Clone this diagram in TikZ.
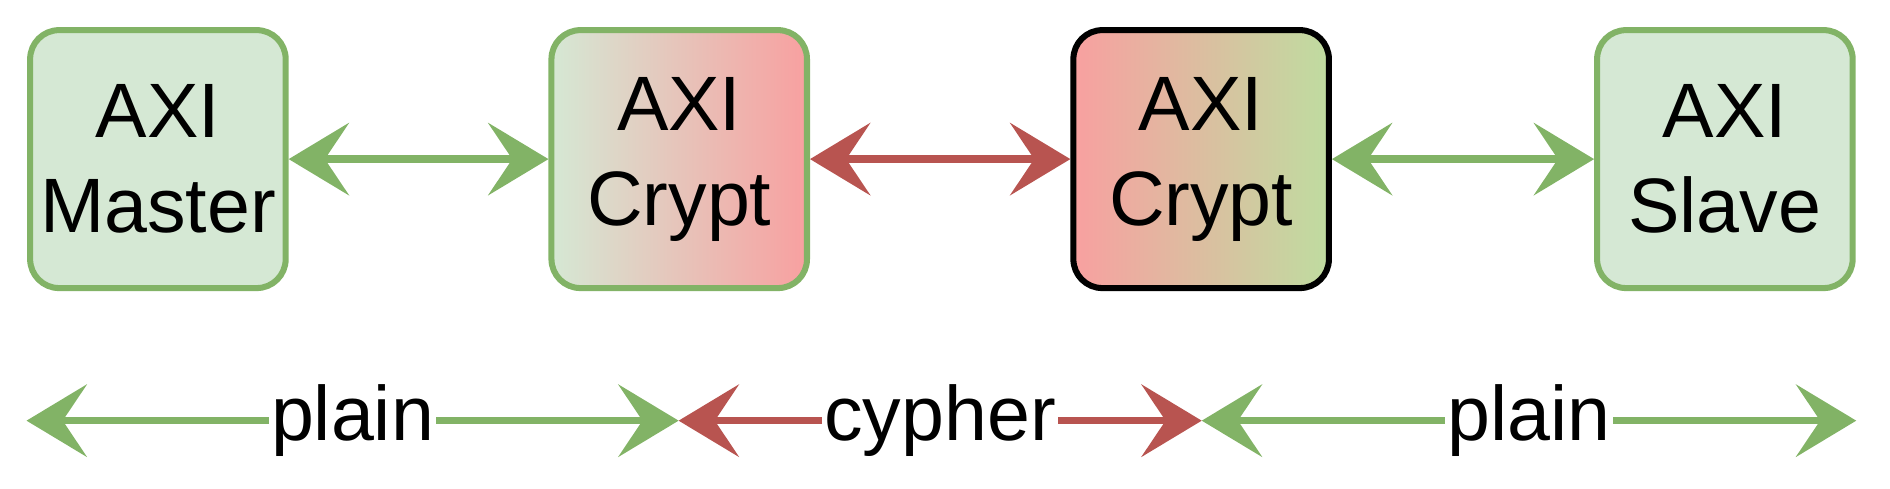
\documentclass[tikz,border=0pt]{standalone}
\usepackage{fontspec}
\setmainfont{Liberation Sans}
\usetikzlibrary{arrows.meta}
\definecolor{gfill}{HTML}{D5E8D4}
\definecolor{gline}{HTML}{82B366}
\definecolor{rline}{HTML}{B85450}
\definecolor{rfill}{HTML}{F8A0A0}
\definecolor{gfill2}{HTML}{BFDCA0}
\begin{document}
\begin{tikzpicture}[x=0.5pt,y=-0.5pt,
  box/.style={draw=gline,line width=2.5pt,rounded corners=12pt,minimum width=106pt,minimum height=107pt,inner sep=0pt,align=center,font=\fontsize{32}{39.5}\selectfont},
  arr/.style={line width=3pt,>={Stealth[length=25pt,width=30pt,inset=10pt]},<->},
  lab/.style={fill=white,inner sep=1pt,font=\fontsize{32}{39.5}\selectfont}]
\useasboundingbox (0,0) rectangle (1568,405);
\node[box,fill=gfill] (m) at (131,132) {AXI\\Master};
\node[box,left color=gfill,right color=rfill] (c1) at (563.5,132) {AXI\\Crypt};
\node[box,draw=black,left color=rfill,right color=gfill2] (c2) at (996.5,132) {AXI\\Crypt};
\node[box,fill=gfill] (s) at (1431,132) {AXI\\Slave};
\draw[arr,gline] (m) -- (c1);
\draw[arr,rline] (c1) -- (c2);
\draw[arr,gline] (c2) -- (s);
\coordinate (p0) at (22,349);
\coordinate (p1) at (563,349);
\coordinate (p2) at (997,349);
\coordinate (p3) at (1540,349);
\draw[arr,gline] (p0) -- node[lab,text=black] (l1) {plain} (p1);
\draw[arr,rline] (p1) -- node[lab,text=black] (l2) {cypher} (p2);
\draw[arr,gline] (p2) -- node[lab,text=black] (l3) {plain} (p3);
\end{tikzpicture}
\end{document}
